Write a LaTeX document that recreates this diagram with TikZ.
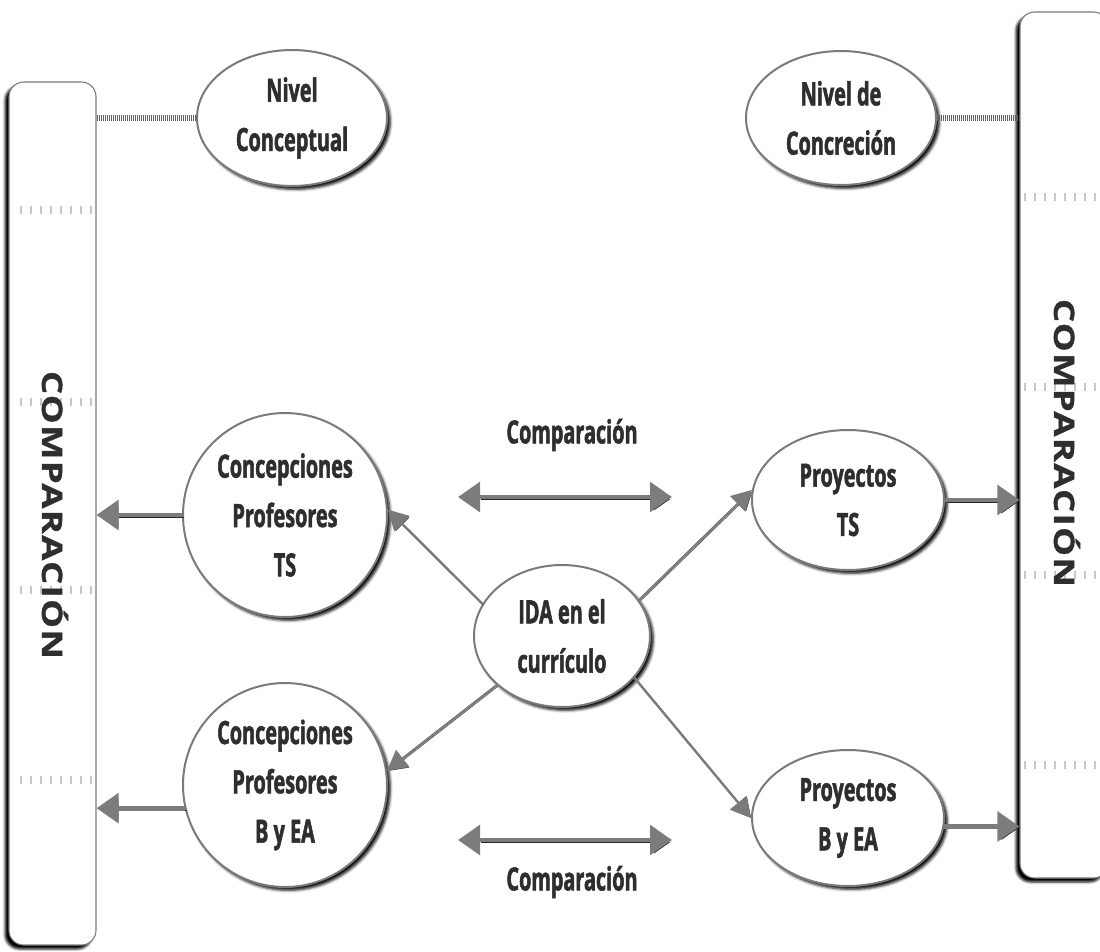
\documentclass[tikz,border=0pt]{standalone}
\usepackage{fontspec}
\usetikzlibrary{arrows.meta,shapes.geometric,shadows.blur}
\newfontfamily\lblfont[FakeStretch=0.62,FakeBold=1.6]{Open Sans}
\newfontfamily\barfont[FakeStretch=1.3,LetterSpace=5,FakeBold=1.2]{Open Sans}
\definecolor{ink}{HTML}{2E2E2E}
\definecolor{rim}{HTML}{7A7A7A}
\definecolor{shaft}{HTML}{7C7C7C}

\begin{document}
\begin{tikzpicture}[x=0.75pt,y=-0.75pt,
  txt/.style={font=\lblfont\bfseries\fontsize{24}{37}\selectfont, text=ink, align=center},
  bubble/.style={ellipse, draw=rim, line width=1.5pt, fill=white, inner sep=0pt, txt,
    blur shadow={shadow xshift=2.5pt, shadow yshift=-2.5pt, shadow blur radius=2pt, shadow opacity=95}},
  bar/.style={rectangle, rounded corners=11pt, draw=rim, line width=0.8pt, fill=white,
    minimum width={87*0.75pt},
    blur shadow={shadow xshift=-3pt, shadow yshift=-3pt, shadow blur radius=1.8pt, shadow opacity=100}},
  bartxt/.style={font=\barfont\bfseries\fontsize{21}{24}\selectfont, text=ink, rotate=-90},
  ticks/.style={line width=6pt, draw=black!22, dash pattern=on 1.2pt off 6.3pt},
  dotline/.style={line width=4pt, draw=black!62, dash pattern=on 0.9pt off 0.6pt},
  bigarrow/.style={line width=3.6pt, draw=shaft, -{Triangle[length=16.5pt,width=22pt]},
    preaction={draw=black!85, transform canvas={xshift=1.4pt, yshift=-1.6pt}}},
  bigboth/.style={line width=3.6pt, draw=shaft, {Triangle[length=16.5pt,width=22pt]}-{Triangle[length=16.5pt,width=22pt]},
    preaction={draw=black!85, transform canvas={xshift=1.4pt, yshift=-1.6pt}}},
  thinarrow/.style={line width=1.8pt, draw=black!52, -{Triangle[length=15pt,width=16pt]},
    preaction={draw=black!75, transform canvas={xshift=0.9pt, yshift=-0.9pt}}}
]
\useasboundingbox (0,0) rectangle (1100,951);

% side bars
\node[bar, minimum height={863*0.75pt}] (lbar) at (52.5,513.5) {};
\node[bar, minimum width={88*0.75pt}, minimum height={866*0.75pt}] (rbar) at (1064,445) {};
\foreach \yy in {210,402,590,780} \draw[ticks] (20,\yy) -- (95,\yy);
\foreach \yy in {197,387,575,765} \draw[ticks] (1024,\yy) -- (1102,\yy);
\node[bartxt] (lcmp) at (55,515) {COMPARACIÓN};
\node[bartxt] (rcmp) at (1067,443) {COMPARACIÓN};

% level bubbles
\node[bubble, minimum width={190*0.75pt}, minimum height={136*0.75pt}] (ncon) at (292,118) {Nivel\\Conceptual};
\node[bubble, minimum width={190*0.75pt}, minimum height={134*0.75pt}] (nconc) at (841,118) {Nivel de\\Concreción};

% concept bubbles
\node[bubble, minimum width={204*0.75pt}, minimum height={204*0.75pt}] (cTS) at (285,515) {Concepciones\\Profesores\\TS};
\node[bubble, minimum width={204*0.75pt}, minimum height={204*0.75pt}] (cBE) at (285,785) {Concepciones\\Profesores\\B y EA};
\node[bubble, minimum width={176*0.75pt}, minimum height={142*0.75pt}] (ida) at (562,636) {IDA en el\\currículo};
\node[bubble, minimum width={192*0.75pt}, minimum height={140*0.75pt}] (pTS) at (848,500) {Proyectos\\TS};
\node[bubble, minimum width={192*0.75pt}, minimum height={136*0.75pt}] (pBE) at (848,818) {Proyectos\\B y EA};

% comparison labels and arrows
\node[txt] (cmp1) at (572,435) {Comparación};
\node[txt] (cmp2) at (572,882) {Comparación};
\coordinate (d1a) at (458,497);
\coordinate (d1b) at (672,497);
\coordinate (d2a) at (458,840);
\coordinate (d2b) at (672,840);
\draw[bigboth] (d1a) -- (d1b);
\draw[bigboth] (d2a) -- (d2b);

% dotted links to the bars
\draw[dotline] (lbar.east |- ncon.west) -- (ncon.west);
\draw[dotline] (nconc.east) -- (rbar.west |- nconc.east);

% arrows to the bars
\draw[bigarrow] (cTS.west) -- (lbar.east |- cTS.west);
\draw[bigarrow] (cBE.193) -- (lbar.east |- cBE.193);
\draw[bigarrow] (pTS.east) -- (rbar.west |- pTS.east);
\draw[bigarrow] (pBE.-5) -- (rbar.west |- pBE.-5);

% arrows out of the curriculum
\draw[thinarrow] (ida.158) -- (cTS.3);
\draw[thinarrow] (ida.217) -- (cBE.8);
\draw[thinarrow] (ida.25) -- (pTS.174);
\draw[thinarrow] (ida.-30) -- (pBE.180);
\end{tikzpicture}
\end{document}
